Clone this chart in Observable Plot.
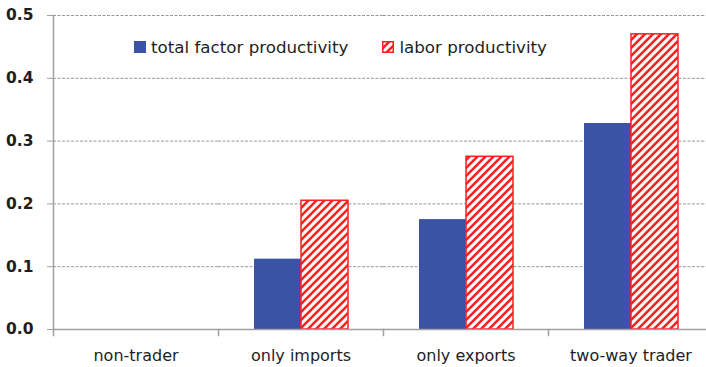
<!DOCTYPE html>
<html>
<head>
<meta charset="utf-8">
<script src="https://cdn.jsdelivr.net/npm/d3@7"></script>
<script src="https://cdn.jsdelivr.net/npm/@observablehq/plot@0.6"></script>
<style>
  html, body { margin: 0; padding: 0; background: #fff; overflow: hidden; }
  #wrap { position: relative; width: 706px; height: 367px; overflow: hidden; }
  #legend { position: absolute; top: 37px; left: 134px; display: flex; align-items: center;
            font-family: "DejaVu Sans", sans-serif; font-size: 16.7px; color: #1e1e1e; white-space: nowrap; }
  #legend .sw { width: 12px; height: 12px; display: inline-block; margin-right: 5px; }
  #legend .item { display: flex; align-items: center; }
</style>
</head>
<body>
<div id="wrap"><div id="chart"></div><div id="legend"></div></div>
<script>
const categories = ["non-trader", "only imports", "only exports", "two-way trader"];
const seriesNames = ["total factor productivity", "labor productivity"];
const tfpValues = [0, 0.112, 0.175, 0.328];
const laborValues = [0, 0.205, 0.275, 0.470];
const yTicks = [0, 0.1, 0.2, 0.3, 0.4, 0.5];

const blue = "#3a53a4";
const red = "#ff1f1f";
const gray = "#a0a0a0";

const data = categories.flatMap((c, i) => [
  {category: c, series: seriesNames[0], value: tfpValues[i]},
  {category: c, series: seriesNames[1], value: laborValues[i]}
]);

const chart = Plot.plot({
  width: 713,
  height: 367,
  marginLeft: 53,
  marginRight: 0,
  marginTop: 15,
  marginBottom: 38,
  style: {fontFamily: "DejaVu Sans, sans-serif", fontSize: "16px", color: "#1e1e1e", background: "#fff", overflow: "visible", maxWidth: "none"},
  fx: {domain: categories, paddingInner: 0, paddingOuter: 0, label: null, tickSize: 0, tickPadding: 20, axis: "bottom"},
  x: {domain: seriesNames, axis: null, paddingInner: 0, paddingOuter: 0.755},
  y: {domain: [0, 0.5], axis: null, label: null},
  marks: [
    Plot.gridY(yTicks.slice(1), {stroke: "#999", strokeOpacity: 1, strokeDasharray: "3,1.5", strokeWidth: 1}),
    Plot.axisY(yTicks, {tickSize: 6, tickPadding: 14, tickFormat: d3.format(".1f"), stroke: gray, color: "#1e1e1e", label: null, fontWeight: "bold", fontSize: 15.5}),
    Plot.barY(data, {
      fx: "category",
      x: "series",
      y: "value",
      fill: d => d.series === seriesNames[0] ? blue : "url(#hatch)",
      stroke: d => d.series === seriesNames[0] ? "none" : red,
      strokeWidth: 1.5,
      inset: 0
    }),
    Plot.ruleY([0], {stroke: gray, strokeWidth: 1.5}),
    Plot.frame({anchor: "left", fx: "non-trader", stroke: gray, strokeWidth: 1.5, insetBottom: -6}),
    Plot.frame({anchor: "right", stroke: gray, strokeWidth: 1.5, insetTop: 314, insetBottom: -6})
  ]
});
chart.style.maxWidth = "none";
chart.style.width = "713px";
chart.style.height = "367px";

// hatch pattern
const ns = "http://www.w3.org/2000/svg";
const defs = document.createElementNS(ns, "defs");
defs.innerHTML = `<pattern id="hatch" patternUnits="userSpaceOnUse" width="8" height="8">
  <rect width="8" height="8" fill="#fff"/>
  <path d="M-2,2 L2,-2 M0,8 L8,0 M6,10 L10,6" stroke="${red}" stroke-width="2.6"/>
</pattern>`;
chart.insertBefore(defs, chart.firstChild);
document.getElementById("chart").appendChild(chart);

// legend
const legend = document.getElementById("legend");
legend.innerHTML = `
  <span class="item"><span class="sw" style="background:${blue}"></span>${seriesNames[0]}</span>
  <span class="item" style="margin-left:34px"><svg class="sw" viewBox="0 0 12 12" style="width:12px;height:12px;margin-right:5px">
    <rect x="0.75" y="0.75" width="10.5" height="10.5" fill="url(#hatch)" stroke="${red}" stroke-width="1.5"/></svg>${seriesNames[1]}</span>`;
</script>
</body>
</html>
